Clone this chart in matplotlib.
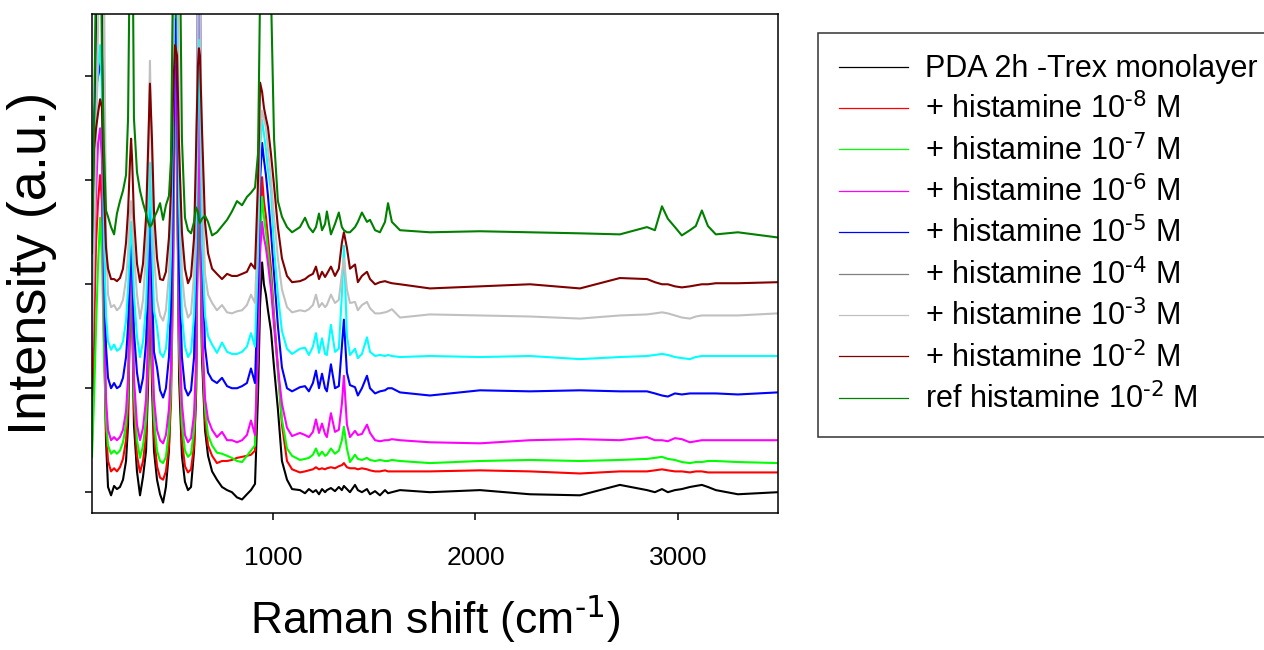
import matplotlib
matplotlib.use('Agg')
from matplotlib import pyplot as plt
from matplotlib.lines import Line2D

plt.rcParams['font.family'] = ['Liberation Sans', 'DejaVu Sans']
plt.rcParams['mathtext.default'] = 'regular'

# Raman shift axis (cm-1), shared by all spectra
shift = [106, 116, 126, 136, 146, 155, 165, 175, 185, 200, 215, 229, 244, 259, 274,
         284, 294, 299, 304, 313, 328, 343, 358, 373, 383, 392, 402, 412, 427, 442,
         457, 471, 486, 496, 506, 516, 526, 536, 550, 565, 580, 595, 610, 620, 629, 634, 639, 649, 664,
         679, 699, 723, 748, 773, 797, 822, 847, 871, 891, 911, 926, 936, 946, 955, 965, 975, 990,
         1005, 1024, 1044, 1069, 1094,
         1133, 1158, 1177, 1197, 1212, 1227, 1242, 1257, 1266, 1286, 1306, 1325, 1340, 1350, 1365,
         1380, 1405, 1419, 1439, 1464, 1479, 1504, 1528, 1553, 1568, 1587, 1627,
         1775, 2022, 2269, 2516, 2713, 2847, 2886, 2921, 2950, 2985, 3019, 3059, 3088, 3118, 3148,
         3187, 3296, 3494]

# offset intensities (a.u.)
pda = [0.5, 1.5, 4.8, 7.0, 7.0, 5.0, 1.8, 0.5, 0.05, -0.03, 0.06, 0.03, 0.05, 0.12, 0.3,
       0.65, 1.8, 2.3, 1.8, 0.65, 0.2, -0.03, 0.15, 0.4, 1.05, 2.3, 1.05, 0.4, 0.12, -0.02,
       -0.1, 0.05, 0.4, 1.1, 3.2, 7.0, 3.2, 1.1, 0.35, 0.1, 0.02, 0.05, 0.4, 0.95, 2.7, 3.6, 2.7, 1.3, 0.6,
       0.35, 0.2, 0.12, 0.05, 0.02, 0.0, -0.05, -0.07, -0.02, 0.02, 0.08, 0.95, 1.8, 2.21, 2.0, 1.9, 1.75, 1.55,
       1.2, 0.8, 0.3, 0.12, 0.03,
       0.02, -0.01, 0.03, 0.0, 0.02, -0.02, 0.03, 0.0, 0.02, 0.04, 0.01, 0.05, 0.02, 0.06, 0.03,
       0.0, 0.07, 0.02, 0.0, 0.03, -0.02, 0.01, -0.03, 0.02, -0.01, 0.0, 0.02,
       0.0, 0.02, -0.02, -0.03, 0.07, 0.02, 0.0, 0.03, 0.0, 0.02, 0.03, 0.05, 0.06, 0.07, 0.05,
       0.02, -0.02, 0.0]

his_8 = [0.9, 1.6, 2.4, 2.8, 3.05, 2.8, 1.5, 0.6, 0.3, 0.2, 0.23, 0.2, 0.24, 0.32, 0.5,
         0.8, 1.85, 2.3, 1.85, 0.8, 0.35, 0.19, 0.3, 0.55, 1.2, 2.4, 1.2, 0.55, 0.25, 0.14,
         0.12, 0.2, 0.45, 0.85, 2.0, 3.95, 3.3, 1.3, 0.5, 0.25, 0.19, 0.22, 0.45, 1.0, 2.9, 3.8, 3.0, 1.4, 0.7,
         0.45, 0.35, 0.28, 0.3, 0.3, 0.31, 0.33, 0.34, 0.35, 0.36, 0.4, 1.5, 2.6, 3.03, 2.8, 2.65, 2.45, 2.15,
         1.7, 1.2, 0.65, 0.3, 0.22,
         0.19, 0.2, 0.21, 0.22, 0.24, 0.22, 0.23, 0.22, 0.23, 0.24, 0.23, 0.25, 0.26, 0.28, 0.24,
         0.23, 0.23, 0.22, 0.23, 0.22, 0.21, 0.2, 0.2, 0.21, 0.2, 0.2, 0.2,
         0.2, 0.21, 0.2, 0.18, 0.2, 0.2, 0.21, 0.22, 0.21, 0.2, 0.2, 0.19, 0.2, 0.2, 0.19,
         0.19, 0.19, 0.19]

his_7 = [0.34, 0.9, 1.6, 2.2, 2.64, 2.3, 1.3, 0.7, 0.45, 0.37, 0.4, 0.37, 0.4, 0.48, 0.65,
         0.95, 1.9, 2.3, 1.9, 0.95, 0.5, 0.33, 0.45, 0.7, 1.35, 2.5, 1.35, 0.7, 0.4, 0.3,
         0.28, 0.34, 0.6, 1.0, 2.1, 3.8, 3.2, 1.4, 0.65, 0.4, 0.34, 0.37, 0.6, 1.1, 2.9, 3.75, 3.0, 1.5, 0.8,
         0.55, 0.45, 0.38, 0.37, 0.35, 0.33, 0.3, 0.29, 0.35, 0.4, 0.45, 1.5, 2.45, 2.84, 2.65, 2.5, 2.32, 2.05,
         1.65, 1.15, 0.7, 0.42, 0.35,
         0.31, 0.32, 0.33, 0.36, 0.42, 0.35, 0.39, 0.35, 0.36, 0.42, 0.37, 0.4, 0.5, 0.63, 0.42,
         0.29, 0.36, 0.32, 0.31, 0.33, 0.31, 0.3, 0.31, 0.3, 0.3, 0.31, 0.3,
         0.28, 0.3, 0.31, 0.3, 0.31, 0.32, 0.33, 0.34, 0.32, 0.31, 0.29, 0.28, 0.29, 0.29, 0.3,
         0.3, 0.29, 0.28]

his_6 = [1.3, 2.2, 2.9, 3.36, 3.5, 3.2, 1.8, 0.9, 0.6, 0.5, 0.53, 0.5, 0.53, 0.6, 0.78,
         1.1, 2.0, 2.4, 2.0, 1.1, 0.65, 0.5, 0.62, 0.9, 1.5, 2.7, 1.5, 0.9, 0.6, 0.5,
         0.47, 0.55, 0.8, 1.2, 2.3, 4.1, 3.5, 1.6, 0.85, 0.55, 0.48, 0.52, 0.75, 1.25, 3.0, 3.88, 3.1, 1.6, 0.9,
         0.7, 0.6, 0.53, 0.58, 0.5, 0.5, 0.48, 0.5, 0.55, 0.69, 0.55, 1.4, 2.3, 2.6, 2.45, 2.35, 2.2, 1.95,
         1.6, 1.2, 0.85, 0.62, 0.54,
         0.57, 0.55, 0.53, 0.58, 0.7, 0.57, 0.66, 0.56, 0.53, 0.76, 0.58, 0.6, 0.85, 1.12, 0.65,
         0.53, 0.59, 0.55, 0.56, 0.65, 0.57, 0.5, 0.49, 0.5, 0.5, 0.51, 0.5,
         0.48, 0.47, 0.5, 0.51, 0.5, 0.53, 0.5, 0.5, 0.49, 0.52, 0.51, 0.48, 0.49, 0.5, 0.5,
         0.5, 0.5, 0.5]

his_5 = [2.6, 3.6, 3.9, 4.0, 4.1, 4.22, 2.3, 1.4, 1.1, 1.0, 1.05, 1.0, 1.02, 1.1, 1.3,
         1.6, 2.2, 2.5, 2.2, 1.55, 1.15, 0.96, 1.1, 1.45, 2.0, 3.0, 2.0, 1.35, 1.2, 0.98,
         0.91, 1.0, 1.3, 1.8, 3.0, 4.55, 4.3, 2.2, 1.3, 1.0, 0.93, 0.98, 1.3, 2.2, 5.0, 6.0, 5.0, 2.4, 1.4,
         1.15, 1.08, 1.05, 1.1, 1.02, 1.0, 1.0, 1.02, 1.05, 1.19, 1.05, 2.0, 3.0, 3.36, 3.2, 3.05, 2.85, 2.5,
         2.1, 1.6, 1.2, 1.0, 0.97,
         1.01, 1.02, 0.97, 1.05, 1.17, 1.0, 1.14, 1.0, 0.97, 1.23, 1.0, 1.02, 1.4, 1.66, 1.15,
         1.03, 1.01, 0.93, 1.0, 1.12, 1.0, 0.95, 0.97, 0.98, 1.0, 1.0, 0.96,
         0.93, 0.98, 0.97, 0.98, 0.97, 0.97, 0.95, 0.93, 0.92, 0.95, 0.94, 0.95, 0.95, 0.95, 0.95,
         0.95, 0.94, 0.96]

his_4 = [1.8, 2.8, 3.6, 4.1, 4.3, 3.9, 2.4, 1.7, 1.45, 1.37, 1.42, 1.36, 1.38, 1.45, 1.65,
         1.95, 2.4, 2.6, 2.4, 1.9, 1.5, 1.3, 1.45, 1.8, 2.4, 3.17, 2.4, 1.75, 1.59, 1.34,
         1.3, 1.38, 1.7, 2.3, 3.6, 5.5, 5.0, 2.8, 1.7, 1.4, 1.3, 1.35, 1.7, 2.4, 3.8, 4.35, 3.9, 2.4, 1.7,
         1.5, 1.42, 1.34, 1.44, 1.35, 1.33, 1.33, 1.35, 1.4, 1.53, 1.4, 2.3, 3.3, 3.58, 3.45, 3.3, 3.1, 2.9,
         2.35, 1.9, 1.55, 1.38, 1.33,
         1.38, 1.39, 1.32, 1.4, 1.53, 1.34, 1.48, 1.33, 1.32, 1.61, 1.35, 1.38, 1.9, 2.37, 1.5,
         1.32, 1.38, 1.29, 1.33, 1.49, 1.35, 1.31, 1.32, 1.31, 1.32, 1.31, 1.3,
         1.31, 1.3, 1.31, 1.28, 1.3, 1.31, 1.32, 1.33, 1.32, 1.3, 1.29, 1.28, 1.3, 1.31, 1.31,
         1.31, 1.31, 1.31]

his_3 = [1.4, 2.3, 3.4, 4.5, 5.5, 6.5, 5.0, 2.5, 1.9, 1.78, 1.8, 1.75, 1.78, 1.85, 2.05,
         2.3, 2.7, 2.8, 2.7, 2.3, 1.9, 1.67, 1.85, 2.3, 3.0, 4.15, 3.1, 2.3, 1.85, 1.7,
         1.65, 1.75, 2.1, 2.8, 4.2, 5.8, 5.8, 3.4, 2.1, 1.8, 1.68, 1.72, 2.1, 2.9, 4.8, 5.8, 5.0, 3.0, 2.1,
         1.9, 1.82, 1.75, 1.8, 1.73, 1.72, 1.74, 1.75, 1.8, 1.9, 1.82, 2.6, 3.4, 3.67, 3.6, 3.5, 3.3, 3.0,
         2.65, 2.25, 1.95, 1.78, 1.73,
         1.75, 1.74, 1.76, 1.8, 1.9, 1.78, 1.82, 1.78, 1.8, 1.9, 1.82, 1.85, 2.1, 2.25, 1.95,
         1.82, 1.83, 1.75, 1.8, 1.83, 1.77, 1.72, 1.72, 1.73, 1.74, 1.76, 1.68,
         1.71, 1.7, 1.69, 1.67, 1.7, 1.71, 1.72, 1.73, 1.72, 1.7, 1.68, 1.67, 1.69, 1.7, 1.7,
         1.7, 1.7, 1.72]

his_2 = [2.5, 3.3, 3.5, 3.65, 3.78, 3.7, 2.9, 2.35, 2.15, 2.05, 2.05, 2.03, 2.06, 2.15, 2.4,
         2.7, 3.2, 3.4, 3.2, 2.65, 2.2, 2.02, 2.2, 2.65, 3.3, 3.93, 3.4, 2.7, 2.25, 2.05,
         2.04, 2.12, 2.45, 2.9, 3.8, 4.3, 4.2, 3.3, 2.5, 2.15, 2.01, 2.08, 2.45, 3.3, 4.1, 4.27, 4.2, 3.5, 2.6,
         2.3, 2.15, 2.1, 2.05, 2.1, 2.08, 2.08, 2.1, 2.12, 2.2, 2.15, 3.0, 3.94, 3.85, 3.7, 3.6, 3.51, 3.25,
         2.95, 2.55, 2.25, 2.08, 2.02,
         2.03, 2.05, 2.08, 2.1, 2.17, 2.05, 2.12, 2.07, 2.1, 2.17, 2.08, 2.15, 2.4, 2.5, 2.35,
         2.15, 2.19, 2.02, 2.08, 2.12, 2.05, 2.0, 2.02, 2.03, 2.02, 2.01, 2.0,
         1.96, 1.98, 2.0, 1.96, 2.06, 2.05, 2.02, 2.0, 2.0, 1.98, 1.97, 1.98, 1.99, 2.0, 2.0,
         2.01, 2.01, 2.02]

ref_2 = [2.3, 3.5, 5.0, 7.0, 6.0, 4.2, 3.3, 2.71, 2.65, 2.55, 2.48, 2.68, 2.8, 2.9, 3.05,
         3.6, 5.5, 7.0, 6.0, 3.6, 3.08, 2.9, 2.78, 2.68, 2.6, 2.55, 2.58, 2.64, 2.7, 2.78,
         2.62, 2.76, 2.85, 3.2, 5.0, 7.0, 8.0, 6.0, 3.4, 2.64, 2.52, 2.49, 2.6, 2.74, 2.7, 2.62, 2.59, 2.63, 2.66,
         2.6, 2.47, 2.5, 2.56, 2.62, 2.7, 2.8, 2.76, 2.84, 2.88, 2.93, 3.26, 4.8, 7.0, 9.0, 9.0, 7.0, 4.8,
         3.4, 2.8, 2.65, 2.55, 2.5,
         2.55, 2.64, 2.55, 2.5, 2.55, 2.68, 2.52, 2.58, 2.7, 2.48, 2.58, 2.69, 2.55, 2.52, 2.5,
         2.5, 2.55, 2.6, 2.69, 2.6, 2.62, 2.52, 2.5, 2.6, 2.78, 2.6, 2.52,
         2.5, 2.51, 2.5, 2.49, 2.48, 2.55, 2.52, 2.75, 2.63, 2.55, 2.47, 2.52, 2.56, 2.71, 2.56,
         2.48, 2.5, 2.45]

labels = ['PDA 2h -Trex monolayer',
          r'+ histamine 10$^{\text{-8}}$ M',
          r'+ histamine 10$^{\text{-7}}$ M',
          r'+ histamine 10$^{\text{-6}}$ M',
          r'+ histamine 10$^{\text{-5}}$ M',
          r'+ histamine 10$^{\text{-4}}$ M',
          r'+ histamine 10$^{\text{-3}}$ M',
          r'+ histamine 10$^{\text{-2}}$ M',
          r'ref histamine 10$^{\text{-2}}$ M']
spectra = [pda, his_8, his_7, his_6, his_5, his_4, his_3, his_2, ref_2]
line_colors = ['#000000', '#ff0000', '#00ff00', '#ff00ff', '#0000ff',
               '#00ffff', '#c0c0c0', '#800000', '#008000']
key_colors = ['#000000', '#ff0000', '#00ff00', '#ff00ff', '#0000ff',
              '#808080', '#c0c0c0', '#800000', '#008000']

fig = plt.figure(figsize=(12.64, 6.5), dpi=100)
ax = fig.add_axes([0.0728, 0.2108, 0.5427, 0.7677])

for y, c in zip(spectra, line_colors):
    ax.plot(shift, y, color=c, lw=1.5)

ax.set_xlim(106, 3494)
ax.set_ylim(-0.2, 4.6)
ax.set_xticks([1000, 2000, 3000])
ax.set_yticks([0, 1, 2, 3, 4])
ax.set_yticklabels([])
ax.tick_params(direction='out', length=5, width=1.1, labelsize=19, pad=19)
for s in ax.spines.values():
    s.set_linewidth(1.1)

ax.set_xlabel(r'Raman shift (cm$^{\text{-1}}$)', fontsize=32, labelpad=16)
ax.set_ylabel('Intensity (a.u.)', fontsize=39, labelpad=1)

handles = [Line2D([], [], color=c, lw=0.9) for c in key_colors]
leg = fig.legend(handles, labels, loc='upper left',
                 bbox_to_anchor=(818 / 1264, 1 - 33 / 650),
                 frameon=True, fancybox=False, edgecolor='black',
                 fontsize=22, handlelength=2.25, handletextpad=0.55,
                 labelspacing=0.29, borderpad=0.7, borderaxespad=0)
leg.get_frame().set_linewidth(1.1)

fig.savefig('out.png', dpi=100)
